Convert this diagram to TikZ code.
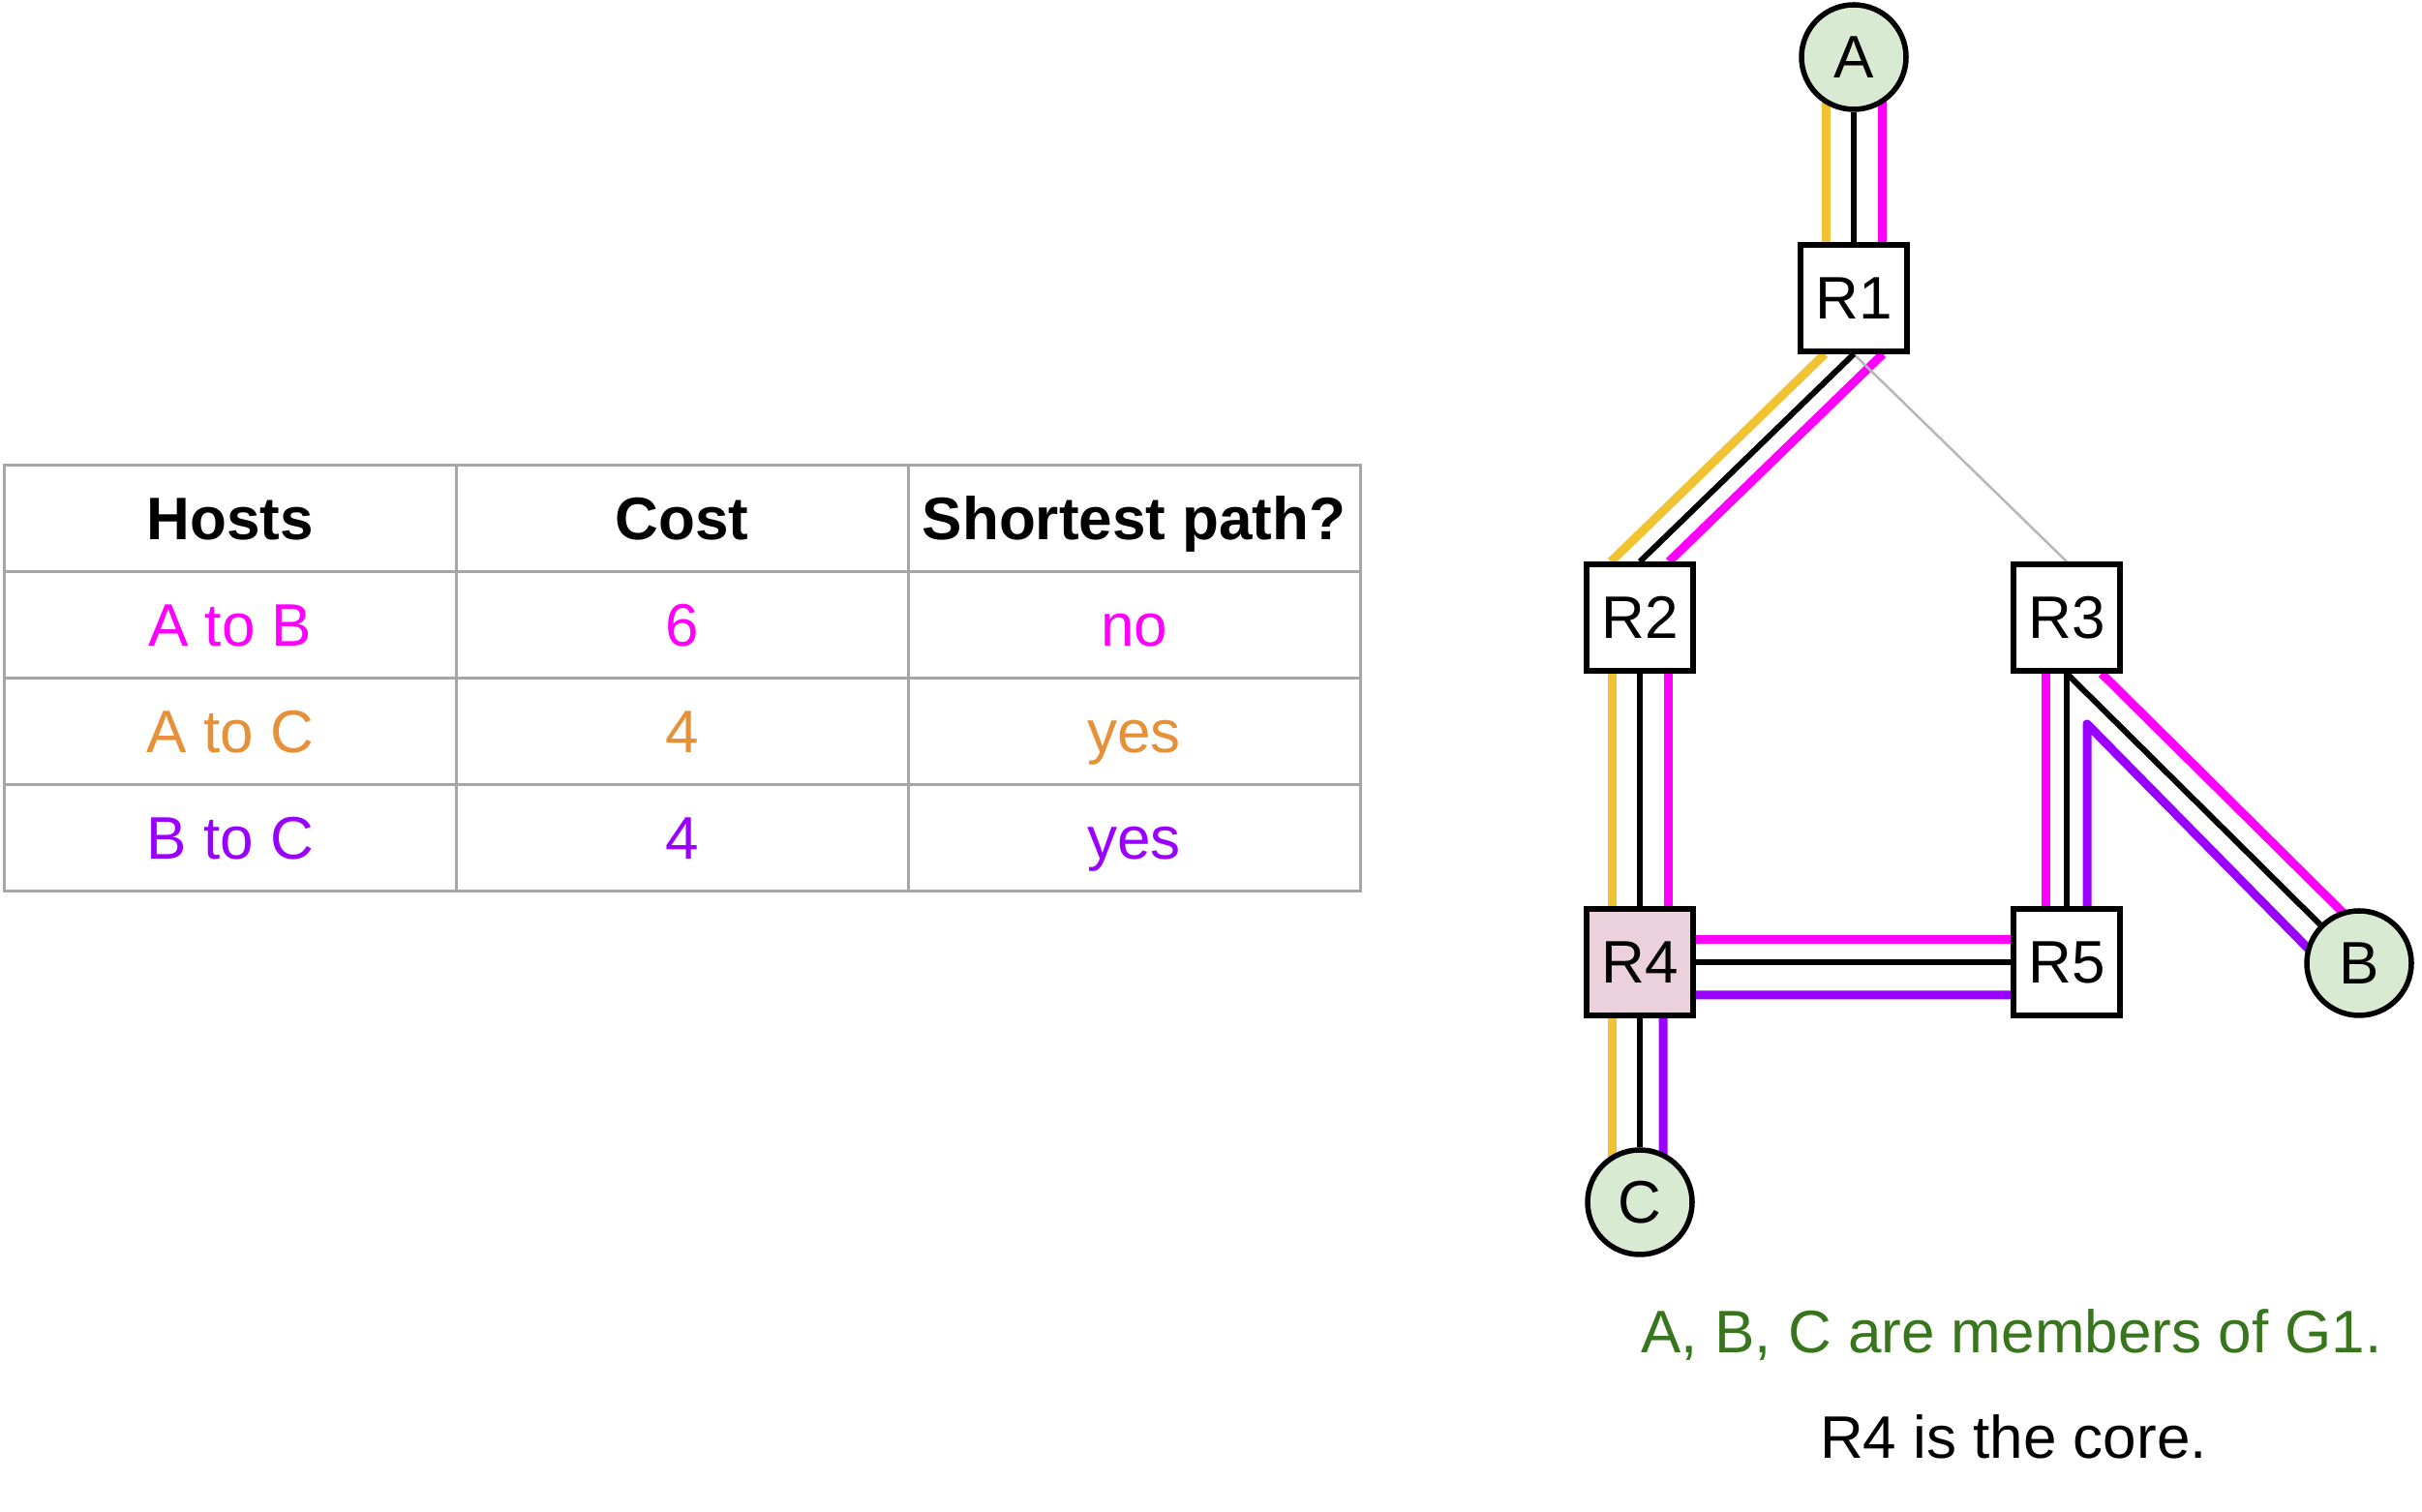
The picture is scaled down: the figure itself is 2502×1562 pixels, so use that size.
\documentclass[tikz,border=0pt]{standalone}
\usepackage{fontspec}
\setmainfont{Liberation Sans}
\usetikzlibrary{calc}
\definecolor{pmag}{HTML}{FF00FF}
\definecolor{pyel}{HTML}{F1C232}
\definecolor{ppur}{HTML}{9900FF}
\definecolor{porange}{HTML}{E69138}
\definecolor{hostgreen}{HTML}{D9EAD3}
\definecolor{corepink}{HTML}{EAD1DC}
\definecolor{notegreen}{HTML}{38761D}
\definecolor{tblgrey}{HTML}{A6A6A6}
\definecolor{linkgrey}{HTML}{B7B7B7}
\newcommand\tkfont{\fontsize{62}{74}\selectfont}
\pgfdeclarelayer{bg}
\pgfsetlayers{bg,main}
\begin{document}
\begin{tikzpicture}[x=1pt,y=1pt,
  router/.style={draw=black, line width=5.5pt, fill=white, minimum size=110pt, inner sep=0pt, font=\tkfont},
  host/.style={circle, draw=black, line width=5.5pt, fill=hostgreen, minimum size=108pt, inner sep=0pt, font=\tkfont},
  blk/.style={draw=black, line width=6pt},
  yel/.style={draw=pyel, line width=9pt},
  mag/.style={draw=pmag, line width=9pt},
  pur/.style={draw=ppur, line width=9pt, line join=round},
  tbl/.style={draw=tblgrey, line width=3pt},
  cell/.style={anchor=base, inner sep=0pt, font=\tkfont},
  head/.style={anchor=base, inner sep=0pt, font=\tkfont\bfseries},
  note/.style={anchor=base, inner sep=0pt, font=\tkfont}]
\useasboundingbox (0,0) rectangle (2502,1562);

% nodes
\node[host] (A) at (1915,1503) {A};
\node[router] (R1) at (1915,1254) {R1};
\node[router] (R2) at (1694,924) {R2};
\node[router] (R3) at (2135,924) {R3};
\node[router, fill=corepink] (R4) at (1694,568) {R4};
\node[router] (R5) at (2135,568) {R5};
\node[host] (B) at (2437,567) {B};
\node[host] (C) at (1694,320) {C};

\begin{pgfonlayer}{bg}
% A to C (yellow)
\draw[yel] ($(A.center)+(-29,0)$) -- ($(R1.center)+(-29,0)$);
\draw[yel] ($(R1.south)+(-30,0)$) -- ($(R2.north)+(-30,0)$);
\draw[yel] ($(R2.center)+(-29,0)$) -- ($(R4.center)+(-29,0)$);
\draw[yel] ($(R4.center)+(-29,0)$) -- ($(C.center)+(-29,0)$);
% A to B (magenta)
\draw[mag] ($(A.center)+(29,0)$) -- ($(R1.center)+(29,0)$);
\draw[mag] ($(R1.south)+(30,0)$) -- ($(R2.north)+(30,0)$);
\draw[mag] ($(R2.center)+(29,0)$) -- ($(R4.center)+(29,0)$);
\draw[mag] ($(R4.center)+(0,23)$) -- ($(R5.center)+(0,23)$);
\draw[mag] ($(R5.center)+(-22,0)$) -- ($(R3.center)+(-22,0)$);
\draw[mag] ($(R3.south)+(36,0)$) -- ($(B.center)+(36,0)$);
% B to C (purple)
\draw[pur] ($(C.center)+(24,0)$) -- ($(R4.center)+(24,-34)$) -- ($(R5.center)+(21,-34)$)
  -- ($(R3.center)+(21,-110)$) -- ($(B.center)+(-25,-13)$);
% physical links
\draw[draw=linkgrey, line width=2.5pt] (R1.south) -- (R3.north);
\draw[blk] (A) -- (R1);
\draw[blk] (R1.south) -- (R2.north);
\draw[blk] (R2) -- (R4);
\draw[blk] (R4) -- (R5);
\draw[blk] (R3) -- (R5);
\draw[blk] (R3.south) -- (B);
\draw[blk] (R4) -- (C);
\end{pgfonlayer}

% table
\draw[tbl] (4.5,641) rectangle (1405,1081);
\draw[tbl] (4.5,751) -- (1405,751);
\draw[tbl] (4.5,861) -- (1405,861);
\draw[tbl] (4.5,971) -- (1405,971);
\draw[tbl] (471,641) -- (471,1081);
\draw[tbl] (938,641) -- (938,1081);

\node[head] (h1) at (237.75,1004) {Hosts};
\node[head] (h2) at (704.5,1004) {Cost};
\node[head] (h3) at (1171.5,1004) {Shortest path?};
\node[cell, text=pmag] (a1) at (237.75,894) {A to B};
\node[cell, text=pmag] (a2) at (704.5,894) {6};
\node[cell, text=pmag] (a3) at (1171.5,894) {no};
\node[cell, text=porange] (b1) at (237.75,784) {A to C};
\node[cell, text=porange] (b2) at (704.5,784) {4};
\node[cell, text=porange] (b3) at (1171.5,784) {yes};
\node[cell, text=ppur] (c1) at (237.75,674) {B to C};
\node[cell, text=ppur] (c2) at (704.5,674) {4};
\node[cell, text=ppur] (c3) at (1171.5,674) {yes};

% notes
\node[note, text=notegreen] (n1) at (2078,164) {A, B, C are members of G1.};
\node[note] (n2) at (2080,55) {R4 is the core.};
\end{tikzpicture}
\end{document}
